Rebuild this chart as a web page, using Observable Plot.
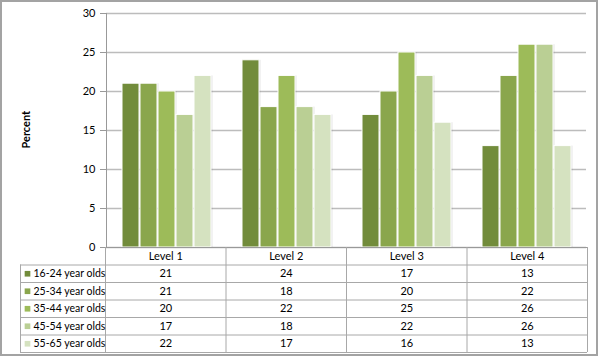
<!DOCTYPE html>
<html><head><meta charset="utf-8">
<script src="https://cdn.jsdelivr.net/npm/d3@7"></script>
<script src="https://cdn.jsdelivr.net/npm/@observablehq/plot@0.6"></script>
<style>
body{margin:0;background:#fff;}
#wrap{position:relative;width:600px;height:358px;overflow:hidden;}
#frame{position:absolute;left:0;top:0;width:594px;height:352px;border:2px solid #a3a3a3;}
#wrap svg{position:absolute;left:0;top:0;}
</style></head><body><div id="wrap"><div id="frame"></div></div>
<script>
const levels = ["Level 1","Level 2","Level 3","Level 4"];
const groups = ["16-24 year olds","25-34 year olds","35-44 year olds","45-54 year olds","55-65 year olds"];
const v1624 = [21,24,17,13];
const v2534 = [21,18,20,22];
const v3544 = [20,22,25,26];
const v4554 = [17,18,22,26];
const v5565 = [22,17,16,13];
const yTicks = [0,5,10,15,20,25,30];
const colors = ["#728c3b","#8aa64c","#9dbb59","#bacf94","#d5e2c0"];
const yLabel = "Percent";

const series = [v1624,v2534,v3544,v4554,v5565];
const data = groups.flatMap((g,i)=>levels.map((l,j)=>({group:g, level:l, value:series[i][j], gi:i, li:j})));

const font = {fontFamily:"Lato, 'Liberation Sans', sans-serif", fontSize:"11px", color:"#000", background:"transparent", overflow:"visible"};

const chart = Plot.plot({
  width:600, height:358, marginTop:13, marginBottom:111, marginLeft:105, marginRight:13,
  style: font,
  fx:{domain:levels, padding:0, axis:null, label:null},
  x:{domain:groups, axis:null, paddingInner:0.06, paddingOuter:0.78},
  y:{domain:[0,30], axis:null, label:null},
  color:{domain:groups, range:colors},
  marks:[
    Plot.gridY(yTicks, {stroke:"#bcbcbc", strokeOpacity:1, strokeWidth:1.5}),
    Plot.barY(data, {fx:"level", x:"group", y:"value", fill:"#000", fillOpacity:0.1, dx:1.5}),
    Plot.barY(data, {fx:"level", x:"group", y:"value", fill:"group", stroke:"white", strokeWidth:1}),
    Plot.axisY(yTicks, {tickSize:6, tickPadding:5, stroke:"#999", fill:"#000", label:null, facetAnchor:"left", fontSize:11}),
    Plot.frame({anchor:"left", stroke:"#999", facetAnchor:"left"}),
    Plot.text([yLabel], {frameAnchor:"left", dx:-80, dy:18, rotate:-90, text:d=>d, fontWeight:"bold", fontSize:11, facetAnchor:"left", fill:"#000"})
  ]
});

const labelFrac = 85 / ((600 - 105 - 13) / levels.length);
const nRows = groups.length + 1;
const table = Plot.plot({
  width:600, height:358, marginTop:247, marginBottom:6, marginLeft:20, marginRight:13,
  style: font,
  x:{type:"linear", domain:[-labelFrac, levels.length], axis:null},
  y:{type:"linear", domain:[0, nRows], reverse:true, axis:null},
  marks:[
    Plot.ruleY([0], {x1:0, x2:levels.length, stroke:"#999"}),
    Plot.ruleY(d3.range(1, nRows + 1), {x1:-labelFrac, x2:levels.length, stroke:"#a8a8a8"}),
    Plot.ruleX(d3.range(0, levels.length + 1), {y1:0, y2:nRows, stroke:"#a8a8a8"}),
    Plot.ruleX([-labelFrac], {y1:1, y2:nRows, stroke:"#a8a8a8"}),
    Plot.text(levels, {x:(d,j)=>j+0.5, y:0.5, text:d=>d, fill:"#000"}),
    Plot.text(data, {x:d=>d.li+0.5, y:d=>d.gi+1.5, text:d=>String(d.value), fill:"#000"}),
    Plot.dot(groups, {x:-labelFrac, y:(d,i)=>i+1.5, dx:7, symbol:"square", r:3.2, fill:(d,i)=>colors[i], stroke:null}),
    Plot.text(groups, {x:-labelFrac, y:(d,i)=>i+1.5, dx:13, textAnchor:"start", text:d=>d, fill:"#000", fontSize:10.5})
  ]
});

const wrap = document.getElementById("wrap");
wrap.appendChild(chart);
wrap.appendChild(table);
</script>
</body></html>
